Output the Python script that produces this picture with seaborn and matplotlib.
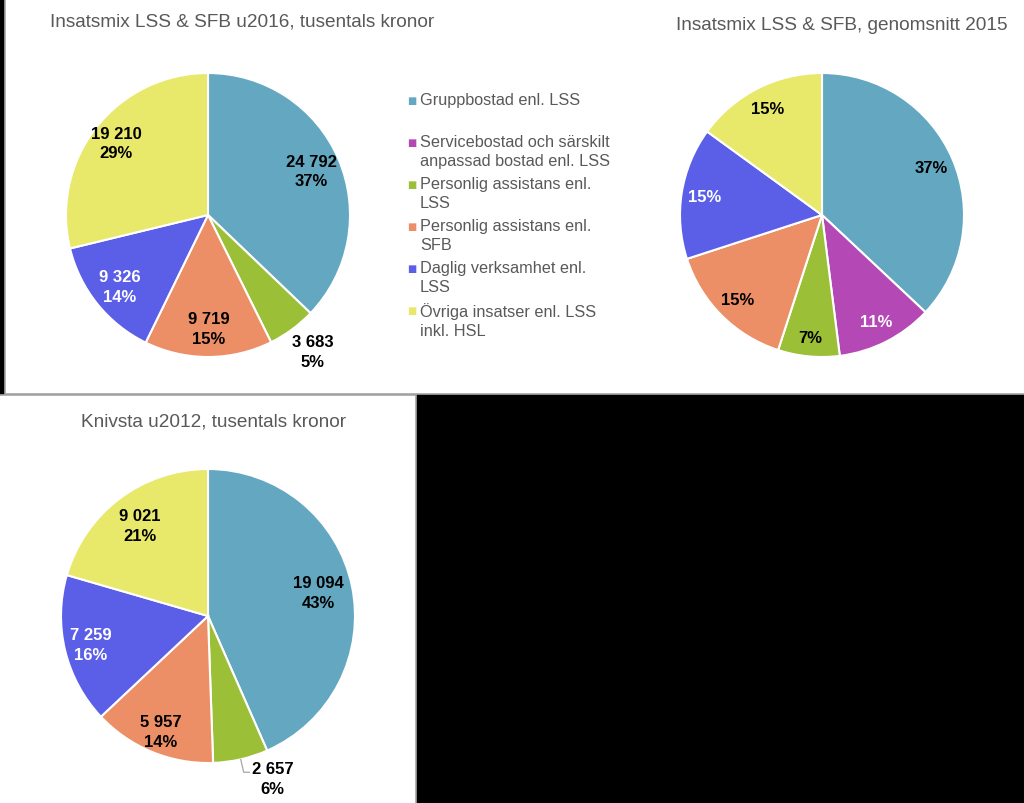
"""
Insatsmix LSS & SFB - tre cirkeldiagram
"""

import numpy as np
import matplotlib.pyplot as plt
import seaborn as sns
from matplotlib.patches import Rectangle


# Data
categories = [
    "Gruppbostad enl. LSS",
    "Servicebostad och särskilt\nanpassad bostad enl. LSS",
    "Personlig assistans enl.\nLSS",
    "Personlig assistans enl.\nSFB",
    "Daglig verksamhet enl.\nLSS",
    "Övriga insatser enl. LSS\ninkl. HSL",
]
u2016_values = [24792, 0, 3683, 9719, 9326, 19210]
u2016_pct = [37, 0, 5, 15, 14, 29]
snitt2015_pct = [37, 11, 7, 15, 15, 15]
knivsta_values = [19094, 0, 2657, 5957, 7259, 9021]
knivsta_pct = [43, 0, 6, 14, 16, 21]

titles = [
    "Insatsmix LSS & SFB u2016, tusentals kronor",
    "Insatsmix LSS & SFB, genomsnitt 2015",
    "Knivsta u2012, tusentals kronor",
]

# Stil
sns.set_theme(style="white")
plt.rcParams['font.family'] = ['Liberation Sans', 'DejaVu Sans']

palette = sns.color_palette(["#63a8c0", "#b448b4", "#9cbf38", "#ec8e66", "#5b5fe8", "#e8e86b"])
label_colors = ["black", "white", "black", "black", "white", "black"]
TITLE_COLOR = "#595959"

W, H = 1024, 804
fig = plt.figure(figsize=(W / 100, H / 100), dpi=100, facecolor="black")

# Vita paneler (under diagrammen)
fig.add_artist(Rectangle((5 / W, (H - 395) / H), 1.0, 1.0, transform=fig.transFigure,
                         facecolor="white", edgecolor="#a6a6a6", linewidth=1.2, zorder=-5))
fig.add_artist(Rectangle((-0.01, -0.01), (416 / W) + 0.01, (H - 396) / H + 0.01,
                         transform=fig.transFigure, facecolor="white",
                         edgecolor="#a6a6a6", linewidth=1.2, zorder=-5))


def fmt_label(value, pct):
    if value is None:
        return f"{pct}%"
    return f"{value:,}".replace(",", " ") + f"\n{pct}%"


def draw_pie(cx, cy, r, values, labels, dists, outside=None):
    """Ritar ett cirkeldiagram centrerat i pixelkoordinater (cx, cy)."""
    outside = outside or {}
    pad = 1.1
    side = 2 * r * pad
    ax = fig.add_axes([(cx - side / 2) / W, (H - cy - side / 2) / H, side / W, side / H])
    ax.patch.set_alpha(0)
    idx = [i for i, v in enumerate(values) if v > 0]
    wedges, _ = ax.pie([values[i] for i in idx], colors=[palette[i] for i in idx],
                       startangle=90, counterclock=False,
                       wedgeprops=dict(edgecolor="white", linewidth=1.5))
    ax.set_xlim(-pad, pad)
    ax.set_ylim(-pad, pad)
    ax.set_aspect("equal")
    ax.axis("off")

    for w, i in zip(wedges, idx):
        mid = (w.theta1 + w.theta2) / 2
        d, dtheta = outside.get(i, (dists[i], 0))
        ang = np.deg2rad(mid + dtheta)
        color = label_colors[i] if d < 1 else "black"
        ax.text(d * np.cos(ang), d * np.sin(ang), labels[i], ha="center", va="center",
                fontsize=12, fontweight="bold", color=color, linespacing=1.4)
    return ax, wedges, idx


# Diagram 1
labels1 = [fmt_label(v, p) for v, p in zip(u2016_values, u2016_pct)]
draw_pie(208, 216, 142, u2016_values, labels1,
         [0.79, 0.8, 0.8, 0.8, 0.8, 0.82], outside={2: (1.21, 1.3)})
fig.text(242 / W, 1 - 22 / H, titles[0], ha="center", va="center",
         fontsize=13.7, color=TITLE_COLOR)

# Diagram 2
labels2 = [fmt_label(None, p) for p in snitt2015_pct]
draw_pie(822, 216, 142, snitt2015_pct, labels2, [0.84, 0.84, 0.87, 0.84, 0.84, 0.84])
fig.text(842 / W, 1 - 25 / H, titles[1], ha="center", va="center",
         fontsize=13.7, color=TITLE_COLOR)

# Diagram 3
labels3 = [fmt_label(v, p) for v, p in zip(knivsta_values, knivsta_pct)]
ax3, wedges3, idx3 = draw_pie(208, 617, 147, knivsta_values, labels3,
                              [0.77, 0.8, 0.8, 0.85, 0.82, 0.77],
                              outside={2: (1.19, 8.8)})
fig.text(214 / W, 1 - 422 / H, titles[2], ha="center", va="center",
         fontsize=13.7, color=TITLE_COLOR)

# Hänvisningslinje för den lilla sektorn
w_small = wedges3[idx3.index(2)]
a = np.deg2rad((w_small.theta1 + w_small.theta2) / 2)
x0, y0 = np.cos(a), np.sin(a)
x1, y1 = 1.09 * np.cos(a), 1.09 * np.sin(a)
ax3.plot([x0, x1, x1 + 0.04], [y0, y1, y1], color="#a6a6a6", linewidth=0.9, clip_on=False)

# Förklaring
for i, cat in enumerate(categories):
    y = 100 + 42 * i
    fig.text(412 / W, 1 - (y + 1) / H, "■", color=palette[i], fontsize=7,
             ha="center", va="center", family="DejaVu Sans")
    fig.text(420 / W, 1 - (y - 7) / H, cat, ha="left", va="top",
             fontsize=11.7, color=TITLE_COLOR, linespacing=1.3)

fig.savefig("out.png", dpi=100, facecolor="black")
